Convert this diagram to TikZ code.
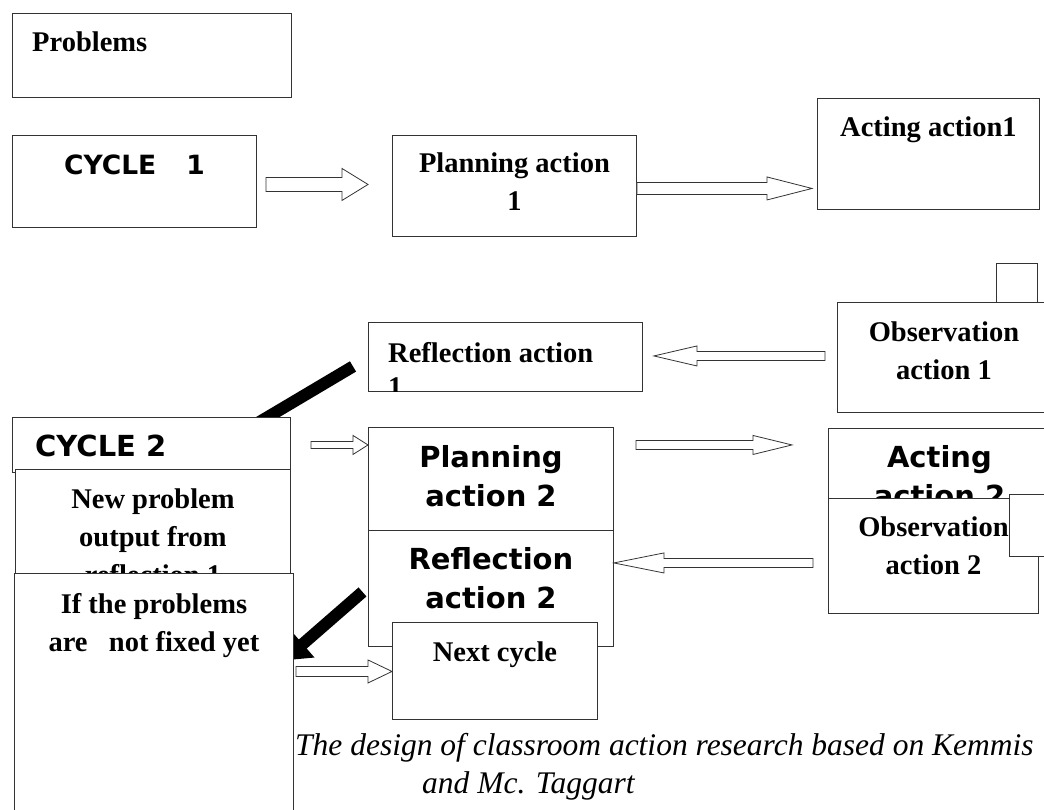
\documentclass[tikz,border=0pt]{standalone}
\usepackage{fontspec}
\setmainfont{Liberation Serif}
\newfontfamily\dejavu{DejaVu Sans}
\usetikzlibrary{positioning,calc,arrows.meta}

% hollow block arrow: start, end, shaft half width, head half width, head length
\newcommand{\hollowarrow}[5]{%
  \draw[hollow] let \p1=(#1), \p2=(#2), \n1={(\x2>\x1)?1:-1} in
    (\x1,\y1+#3pt) -- (\x2-\n1*#5pt,\y1+#3pt) -- (\x2-\n1*#5pt,\y1+#4pt)
    -- (\x2,\y1) -- (\x2-\n1*#5pt,\y1-#4pt) -- (\x2-\n1*#5pt,\y1-#3pt)
    -- (\x1,\y1-#3pt) -- cycle;}

\begin{document}
\begin{tikzpicture}[x=1pt, y=-1pt,
  box/.style={draw=black!80, line width=0.9pt, fill=white, inner sep=0pt, anchor=north west},
  serif/.style={font=\fontsize{28.5}{38}\selectfont\bfseries, align=center, inner sep=0pt},
  sans/.style={font=\dejavu\fontsize{29}{39}\selectfont\bfseries, align=center, inner sep=0pt},
  hollow/.style={draw=black!80, line width=0.8pt, fill=white},
  heavy/.style={line width=12pt, -{Triangle[length=25pt, width=34pt]}},
  caption/.style={font=\fontsize{31.5}{38}\selectfont\itshape, inner sep=0pt}]

\clip (0,0) rectangle (1044,809);

% cycle 1
\node[box, minimum width=279pt, minimum height=84pt] (prob) at (12,13) {};
\node[serif, below right=19pt and 20pt of prob.north west] (probt) {Problems};

\node[box, minimum width=244pt, minimum height=92pt] (cyc1) at (12,135) {};
\node[sans, font=\dejavu\fontsize{26.5}{32}\selectfont\bfseries, below=20pt of cyc1.north] (cyc1t) {CYCLE\hspace{30pt}1};

\node[box, minimum width=244pt, minimum height=101pt] (plan1) at (392,135) {};
\node[serif, below=18pt of plan1.north] (plan1t) {Planning action\\1};

\node[box, minimum width=222pt, minimum height=111pt] (act1) at (817,98) {};
\node[serif, below=19pt of act1.north] (act1t) {Acting action1};

\node[box, minimum width=41pt, minimum height=39pt] (sq1) at (996,263) {};
\node[box, minimum width=213pt, minimum height=110pt] (obs1) at (837,302) {};
\node[serif, below=20pt of obs1.north] (obs1t) {Observation\\action 1};

\node[box, minimum width=274pt, minimum height=69pt] (refl1) at (368,322) {};
\begin{scope}
\clip (refl1.north west) rectangle (refl1.south east);
\node[serif, font=\fontsize{28.5}{34}\selectfont\bfseries, align=left, below right=20pt and 20pt of refl1.north west] (refl1t) {Reflection action\\1};
\end{scope}

\coordinate (a1s) at ($(cyc1.east)+(9,3)$);
\coordinate (a1e) at ($(plan1.west)+(-24,0)$);
\hollowarrow{a1s}{a1e}{7}{16}{26}
\coordinate (a2s) at ($(plan1.east)+(0,2.5)$);
\coordinate (a2e) at ($(act1.west)+(-5,0)$);
\hollowarrow{a2s}{a2e}{6}{11.5}{45}
\coordinate (a3s) at ($(obs1.west)+(-12,-1.5)$);
\coordinate (a3e) at ($(refl1.east)+(11,0)$);
\hollowarrow{a3s}{a3e}{4.5}{10}{43}

% cycle 2
\coordinate (hAs) at ($(refl1.west)+(-15,9.5)$);
\node[box, minimum width=278pt, minimum height=55pt] (cyc2) at (12,417) {};
\coordinate (hAe) at ($(cyc2.north)+(49,40)$);
\draw[heavy] (hAs) -- (hAe);
\node[box, minimum width=278pt, minimum height=55pt] (cyc2) at (12,417) {};
\node[sans, below right=18pt and 23pt of cyc2.north west] (cyc2t) {CYCLE 2};

\node[box, minimum width=275pt, minimum height=131pt] (newp) at (15,469) {};
\node[serif, below=20pt of newp.north] (newpt) {New problem\\output from\\reflection 1};

\node[box, minimum width=245pt, minimum height=110pt] (plan2) at (368,427) {};
\node[sans, below=18pt of plan2.north] (plan2t) {Planning\\action 2};

\node[box, minimum width=245pt, minimum height=116pt] (refl2) at (368,530) {};
\node[sans, below=17pt of refl2.north] (refl2t) {Reflection\\action 2};

\node[box, minimum width=279pt, minimum height=257pt] (ifp) at (14,573) {};
\coordinate (hBs) at ($(refl2.west)+(-5.5,3.5)$);
\coordinate (hBe) at ($(ifp.east)+(-10,-41.5)$);
\draw[heavy] (hBs) -- (hBe);
\node[box, minimum width=279pt, minimum height=257pt] (ifp) at (14,573) {};
\node[serif, below=20pt of ifp.north] (ifpt) {If the problems\\are\ \ \ not fixed yet};

\node[box, minimum width=205pt, minimum height=97pt] (next) at (392,622) {};
\node[serif, below=20pt of next.north] (nextt) {Next cycle};

\node[box, minimum width=222pt, minimum height=82pt] (act2) at (828,428) {};
\node[sans, below=17pt of act2.north] (act2t) {Acting\\action 2};

\node[box, minimum width=210pt, minimum height=115pt] (obs2) at (828,498) {};
\node[serif, below=19pt of obs2.north] (obs2t) {Observation\\action 2};
\node[box, minimum width=41pt, minimum height=62pt] (sq2) at (1009,494) {};

\coordinate (a4s) at ($(cyc2.east)+(20,0)$);
\hollowarrow{a4s}{plan2.west}{3.5}{9.5}{15}
\coordinate (a5s) at ($(plan2.east)+(22,-37.5)$);
\coordinate (a5e) at ($(act2.west)+(-36,0)$);
\hollowarrow{a5s}{a5e}{4.5}{9.5}{39}
\coordinate (a6s) at ($(obs2.west)+(-15,7)$);
\hollowarrow{a6s}{refl2.east}{4.5}{10}{50}
\coordinate (a7s) at ($(ifp.east)+(2,-30.5)$);
\hollowarrow{a7s}{next.west}{5}{11.5}{24}

% caption
\node[caption, anchor=base west] (cap1) at (295,755) {The design of classroom action research based on Kemmis};
\node[caption, anchor=base west] (cap2) at ($(cap1.base west)+(127,38)$) {and Mc. Taggart};

\end{tikzpicture}
\end{document}
